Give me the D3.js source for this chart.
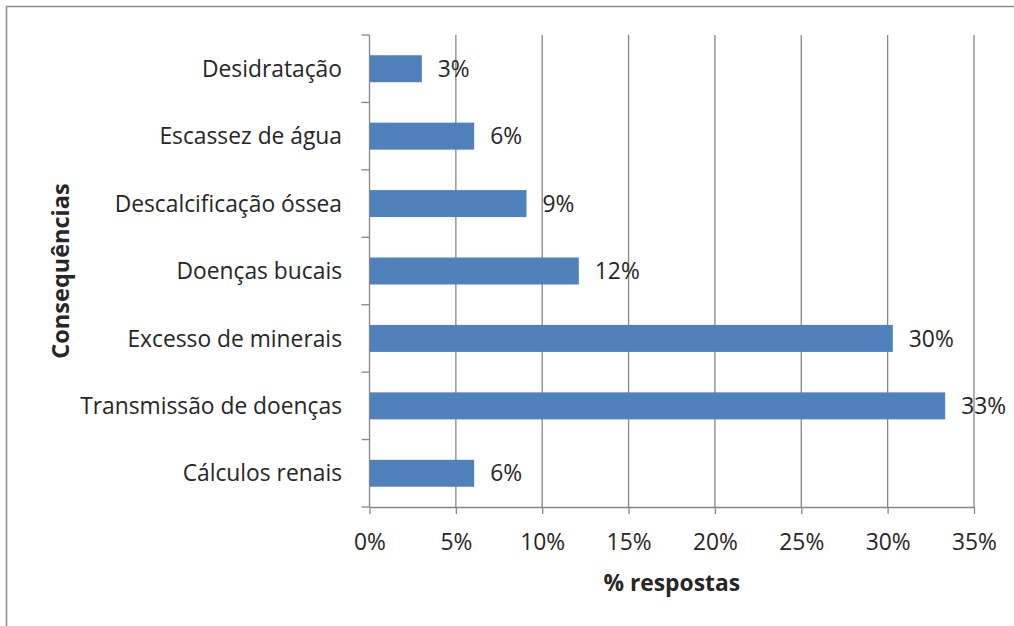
<!DOCTYPE html>
<html>
<head>
<meta charset="utf-8">
<script src="https://cdn.jsdelivr.net/npm/d3@7"></script>
<style>
  html, body { margin: 0; padding: 0; background: #fff; }
  svg { display: block; }
  text { font-family: "Open Sans", "DejaVu Sans", sans-serif; fill: #262626; }
</style>
</head>
<body>
<svg id="chart" width="1014" height="626"></svg>
<script>
// Consequences cited, share of responses (n/33)
const categories = [
  "Desidratação",
  "Escassez de água",
  "Descalcificação óssea",
  "Doenças bucais",
  "Excesso de minerais",
  "Transmissão de doenças",
  "Cálculos renais"
];
const values = [3.03, 6.06, 9.09, 12.12, 30.30, 33.33, 6.06];
const xTicks = [0, 5, 10, 15, 20, 25, 30, 35];
const xTitle = "% respostas";
const yTitle = "Consequências";

const svg = d3.select("#chart");
const W = 1014, H = 626;
const plot = { left: 369.5, right: 974, top: 35, bottom: 507 };
const gridColor = "#868686";
const fs = 22.8;

// outer frame
svg.append("rect")
  .attr("x", 6.5).attr("y", 6.5)
  .attr("width", W + 20).attr("height", H + 20)
  .attr("fill", "none").attr("stroke", "#8c8c8c").attr("stroke-width", 1.5);

const x = d3.scaleLinear().domain([0, 35]).range([plot.left, plot.right]);
const y = d3.scaleBand().domain(categories)
  .range([plot.top, plot.bottom]).paddingInner(0.6).paddingOuter(0.3);
const yEdges = d3.scaleBand().domain(categories).range([plot.top, plot.bottom]);

// vertical gridlines
svg.append("g").selectAll("line").data(xTicks.slice(1)).join("line")
  .attr("x1", d => x(d)).attr("x2", d => x(d))
  .attr("y1", plot.top).attr("y2", plot.bottom)
  .attr("stroke", gridColor).attr("stroke-width", 1.3);

// bars
svg.append("g").selectAll("rect").data(values).join("rect")
  .attr("x", x(0))
  .attr("y", (d, i) => y(categories[i]))
  .attr("width", d => x(d) - x(0))
  .attr("height", y.bandwidth())
  .attr("fill", "#4f81bd");

// value labels
const fmt = d => Math.round(d) + "%";
svg.append("g").selectAll("text").data(values).join("text")
  .attr("x", d => x(d) + 16)
  .attr("y", (d, i) => y(categories[i]) + y.bandwidth() / 2)
  .attr("dy", "0.36em")
  .attr("font-size", fs)
  .text(fmt);

// x axis
const xAxis = svg.append("g")
  .attr("transform", `translate(0,${plot.bottom})`)
  .call(d3.axisBottom(x).tickValues(xTicks).tickSize(7).tickSizeOuter(0).tickPadding(20)
    .tickFormat(d => d + "%"));
xAxis.select(".domain").attr("stroke", gridColor).attr("stroke-width", 1.3);
xAxis.selectAll(".tick line").attr("stroke", gridColor).attr("stroke-width", 1.3);
xAxis.selectAll(".tick text").attr("font-size", fs).attr("font-family", null).attr("fill", "#262626");

// y axis: line with ticks at category boundaries
const yg = svg.append("g");
yg.append("line")
  .attr("x1", plot.left).attr("x2", plot.left)
  .attr("y1", plot.top).attr("y2", plot.bottom)
  .attr("stroke", gridColor).attr("stroke-width", 1.3);
const bounds = categories.map(c => yEdges(c)).concat([plot.bottom]);
yg.selectAll("line.tk").data(bounds).join("line").attr("class", "tk")
  .attr("x1", plot.left - 8).attr("x2", plot.left)
  .attr("y1", d => d).attr("y2", d => d)
  .attr("stroke", gridColor).attr("stroke-width", 1.3);
yg.selectAll("text").data(categories).join("text")
  .attr("x", 342)
  .attr("y", d => y(d) + y.bandwidth() / 2)
  .attr("dy", "0.36em")
  .attr("text-anchor", "end")
  .attr("font-size", fs)
  .text(d => d);

// axis titles
svg.append("text")
  .attr("x", (plot.left + plot.right) / 2).attr("y", 583)
  .attr("dy", "0.36em")
  .attr("text-anchor", "middle")
  .attr("font-size", fs).attr("font-weight", "bold")
  .text(xTitle);

svg.append("text")
  .attr("transform", `translate(61,${(plot.top + plot.bottom) / 2}) rotate(-90)`)
  .attr("dy", "0.36em")
  .attr("text-anchor", "middle")
  .attr("font-size", 23.5).attr("font-weight", "bold")
  .text(yTitle);
</script>
</body>
</html>
